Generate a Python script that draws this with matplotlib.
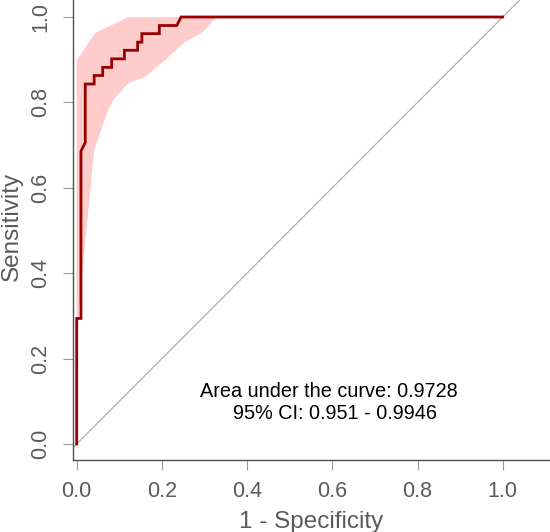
import numpy as np
import matplotlib
matplotlib.use('Agg')
import matplotlib.pyplot as plt

plt.rcParams['font.family'] = ['Liberation Sans', 'DejaVu Sans']

# curva ROC (1 - especificidade, sensibilidade)
roc_fpr = [0.0, 0.0, 0.010, 0.010, 0.020, 0.020, 0.041, 0.041, 0.061, 0.061,
           0.082, 0.082, 0.112, 0.112, 0.143, 0.143, 0.153, 0.153, 0.194, 0.194,
           0.235, 0.245, 1.0]
roc_tpr = [0.0, 0.294, 0.294, 0.686, 0.706, 0.843, 0.843, 0.863, 0.863, 0.882,
           0.882, 0.902, 0.902, 0.922, 0.922, 0.941, 0.941, 0.961, 0.961, 0.980,
           0.980, 1.0, 1.0]

# faixa do IC 95% da sensibilidade
ci_sup_fpr = [0.0, 0.043, 0.121, 1.0]
ci_sup_tpr = [0.899, 0.962, 1.0, 1.0]
ci_inf_fpr = [0.0, 0.005, 0.012, 0.041, 0.057, 0.074, 0.086, 0.121, 0.160,
              0.207, 0.254, 0.293, 0.329, 1.0]
ci_inf_tpr = [0.27, 0.30, 0.39, 0.689, 0.735, 0.782, 0.806, 0.845, 0.859,
              0.899, 0.941, 0.962, 1.0, 1.0]

texto_auc = 'Area under the curve: 0.9728'
texto_ic = '95% CI: 0.951 - 0.9946'

ticks = [0.0, 0.2, 0.4, 0.6, 0.8, 1.0]
tick_labels = ['0.0', '0.2', '0.4', '0.6', '0.8', '1.0']

cinza = '#5a5a5a'

fig = plt.figure(figsize=(5.5, 5.32), dpi=100)
ax = fig.add_axes([72.7 / 550, 72 / 532, 477.3 / 550, 460 / 532])

# faixa rosa
poly_x = list(ci_sup_fpr) + list(ci_inf_fpr[::-1])
poly_y = list(ci_sup_tpr) + list(ci_inf_tpr[::-1])
ax.fill(poly_x, poly_y, color='#ffcccc', lw=0, zorder=1)

# diagonal
ax.axline((0, 0), (1, 1), color='#a8a8a8', lw=0.8, zorder=2)

ax.plot(roc_fpr, roc_tpr, color='#990000', lw=2, zorder=3,
        solid_joinstyle='miter')

ax.set_xlim(-0.0094, 1.111)
ax.set_ylim(-0.0375, 1.0398)

ax.set_xticks(ticks)
ax.set_xticklabels(tick_labels)
ax.set_yticks(ticks)
ax.set_yticklabels(tick_labels, rotation=90, va='center')

ax.tick_params(axis='both', length=7.2, width=0.8, color='#9a9a9a',
               labelcolor=cinza, labelsize=15.5, pad=8)

for lado in ['top', 'right']:
    ax.spines[lado].set_visible(False)
for lado in ['left', 'bottom']:
    ax.spines[lado].set_color('#505050')
    ax.spines[lado].set_linewidth(1.0)

fig.text(12 / 550, 1 - 226 / 532, 'Sensitivity', rotation=90,
         ha='center', va='center', fontsize=17.5, color=cinza)
fig.text(311 / 550, 1 - 528 / 532, '1 - Specificity',
         ha='center', va='baseline', fontsize=17.5, color=cinza)

ax.text(0.5925, 0.110, texto_auc, ha='center', va='baseline',
        fontsize=14.3, color='black')
ax.text(0.606, 0.0585, texto_ic, ha='center', va='baseline',
        fontsize=14.3, color='black')

plt.savefig('out.png', dpi=100)
